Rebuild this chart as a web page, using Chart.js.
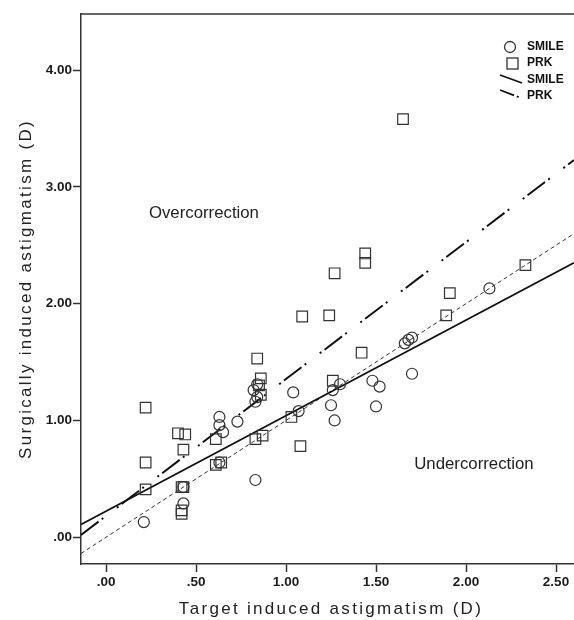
<!DOCTYPE html>
<html>
<head>
<meta charset="utf-8">
<script src="https://cdn.jsdelivr.net/npm/chart.js@4"></script>
<style>
    html, body { margin: 0; padding: 0; background: #fff; overflow: hidden; }
    #wrap { width: 574px; height: 620px; position: relative; }
    canvas { display: block; }
</style>
</head>
<body>
<div id="wrap"><canvas id="scatter"></canvas></div>
<script>
// target vs surgically induced astigmatism
const smileX = [0.21, 0.43, 0.43, 0.63, 0.63, 0.65, 0.63, 0.73, 0.83, 0.84, 0.82, 0.84, 0.83, 1.04, 1.07, 1.25, 1.27, 1.26, 1.30, 1.48, 1.52, 1.50, 1.70, 1.66, 1.68, 1.70, 2.13]
const smileY = [0.13, 0.29, 0.43, 1.03, 0.96, 0.90, 0.64, 0.99, 0.49, 1.31, 1.26, 1.20, 1.16, 1.24, 1.08, 1.13, 1.00, 1.26, 1.31, 1.34, 1.29, 1.12, 1.40, 1.66, 1.69, 1.71, 2.13]
const prkX = [0.22, 0.22, 0.22, 0.40, 0.44, 0.43, 0.42, 0.43, 0.42, 0.42, 0.61, 0.61, 0.64, 0.84, 0.86, 0.85, 0.86, 0.83, 0.87, 1.03, 1.08, 1.26, 1.42, 1.09, 1.24, 1.27, 1.44, 1.44, 1.65, 1.89, 1.91, 2.33]
const prkY = [1.11, 0.64, 0.41, 0.89, 0.88, 0.75, 0.43, 0.43, 0.23, 0.20, 0.84, 0.62, 0.64, 1.53, 1.36, 1.30, 1.22, 0.84, 0.87, 1.03, 0.78, 1.34, 1.58, 1.89, 1.90, 2.26, 2.43, 2.35, 3.58, 1.90, 2.09, 2.33]

// fit lines and the y = x reference, as end points
const lineX = [-0.139, 2.6]
const smileFitY = [0.11, 2.35]
const prkFitY = [0.02, 3.23]
const refY = [-0.139, 2.6]

const xTicks = [0, 0.5, 1, 1.5, 2, 2.5]
const xTickLabels = ['.00', '.50', '1.00', '1.50', '2.00', '2.50']
const yTicks = [0, 1, 2, 3, 4]
const yTickLabels = ['.00', '1.00', '2.00', '3.00', '4.00']

const regionLabels = ['Overcorrection', 'Undercorrection']
const regionX = [0.544, 2.044]
const regionY = [2.77, 0.62]

const xTitle = 'Target induced astigmatism (D)'
const yTitle = 'Surgically induced astigmatism (D)'

const toPts = (xs, ys) => xs.map((v, i) => ({ x: v, y: ys[i] }))

const INK = '#333'
const FONT = '"Liberation Sans", Arial, sans-serif'

const decor = {
    id: 'decor',
    afterDraw(chart) {
        const { ctx, chartArea, scales: { x, y } } = chart
        ctx.save()

        // top of the frame
        ctx.strokeStyle = INK
        ctx.lineWidth = 1.5
        ctx.beginPath()
        ctx.moveTo(chartArea.left, chartArea.top)
        ctx.lineTo(chartArea.right, chartArea.top)
        ctx.stroke()

        ctx.fillStyle = '#222'
        ctx.textAlign = 'center'
        ctx.textBaseline = 'middle'
        ctx.font = '16.8px ' + FONT
        regionLabels.forEach((t, i) => {
            ctx.fillText(t, x.getPixelForValue(regionX[i]), y.getPixelForValue(regionY[i]))
        })

        // axis titles, spaced out like the original
        ctx.letterSpacing = '2.3px'
        ctx.font = '17px ' + FONT
        ctx.textBaseline = 'alphabetic'
        ctx.fillText(xTitle, 331, chart.height - 6)
        ctx.save()
        ctx.translate(31, (chartArea.top + chartArea.bottom) / 2)
        ctx.rotate(-Math.PI / 2)
        ctx.fillText(yTitle, 0, 0)
        ctx.restore()
        ctx.letterSpacing = '0px'

        // legend
        ctx.strokeStyle = INK
        ctx.lineWidth = 1.3
        ctx.beginPath()
        ctx.arc(510, 47, 5.5, 0, Math.PI * 2)
        ctx.stroke()
        ctx.strokeRect(507, 58, 11, 11)

        ctx.lineWidth = 1.8
        ctx.strokeStyle = '#111'
        ctx.beginPath()
        ctx.moveTo(500, 75)
        ctx.lineTo(522, 83)
        ctx.stroke()
        ctx.setLineDash([15, 3, 2, 10])
        ctx.beginPath()
        ctx.moveTo(500, 90)
        ctx.lineTo(521, 98)
        ctx.stroke()
        ctx.setLineDash([])

        ctx.fillStyle = '#111'
        ctx.textAlign = 'left'
        ctx.textBaseline = 'middle'
        ctx.font = 'bold 12px ' + FONT
        ctx.fillText('SMILE', 527, 47)
        ctx.fillText('PRK', 527, 63)
        ctx.fillText('SMILE', 527, 80)
        ctx.fillText('PRK', 527, 96)

        ctx.restore()
    }
}

document.addEventListener('DOMContentLoaded', () => {
    let canvas = document.querySelector('#scatter')
    new Chart(canvas, {
        type: 'scatter',
        data: {
            datasets: [
                {
                    label: 'SMILE',
                    data: toPts(smileX, smileY),
                    pointStyle: 'circle',
                    pointRadius: 5.5,
                    borderColor: INK,
                    borderWidth: 1.2,
                    backgroundColor: 'rgba(0,0,0,0)'
                },
                {
                    label: 'PRK',
                    data: toPts(prkX, prkY),
                    pointStyle: 'rect',
                    pointRadius: 7.5,
                    borderColor: INK,
                    borderWidth: 1.2,
                    backgroundColor: 'rgba(0,0,0,0)'
                },
                {
                    label: 'SMILE fit',
                    data: toPts(lineX, smileFitY),
                    showLine: true,
                    pointRadius: 0,
                    borderColor: '#111',
                    borderWidth: 1.8
                },
                {
                    label: 'PRK fit',
                    data: toPts(lineX, prkFitY),
                    showLine: true,
                    pointRadius: 0,
                    borderColor: '#111',
                    borderWidth: 2,
                    borderDash: [22, 4, 2, 17, 2, 4]
                },
                {
                    label: 'y = x',
                    data: toPts(lineX, refY),
                    showLine: true,
                    pointRadius: 0,
                    borderColor: INK,
                    borderWidth: 1,
                    borderDash: [4, 3]
                }
            ]
        },
        options: {
            responsive: true,
            maintainAspectRatio: false,
            animation: false,
            devicePixelRatio: 1,
            // autoPadding would keep 9px free on the right for the squares
            layout: { autoPadding: false, padding: { top: 14, right: 0, left: 0, bottom: 0 } },
            plugins: {
                legend: { display: false },
                tooltip: { enabled: false }
            },
            scales: {
                x: {
                    type: 'linear',
                    min: -0.139,
                    max: 2.6,
                    border: { display: true, color: INK, width: 1.5 },
                    grid: { drawOnChartArea: false, drawTicks: true, tickLength: 8, tickColor: INK, tickWidth: 1.5 },
                    ticks: {
                        color: '#1a1a1a',
                        padding: 2,
                        font: { family: FONT, size: 13.5, weight: 'bold' },
                        maxRotation: 0,
                        callback: (v, i) => xTickLabels[i]
                    },
                    afterBuildTicks: (scale) => { scale.ticks = xTicks.map(v => ({ value: v })) },
                    afterFit: (scale) => {
                        scale.height = 56
                        scale.paddingLeft = 0
                        scale.paddingRight = 0
                    }
                },
                y: {
                    type: 'linear',
                    min: -0.229,
                    max: 4.48,
                    border: { display: true, color: INK, width: 1.5 },
                    grid: { drawOnChartArea: false, drawTicks: true, tickLength: 8, tickColor: INK, tickWidth: 1.5 },
                    ticks: {
                        color: '#1a1a1a',
                        padding: 1,
                        font: { family: FONT, size: 13.5, weight: 'bold' },
                        callback: (v, i) => yTickLabels[i]
                    },
                    afterBuildTicks: (scale) => { scale.ticks = yTicks.map(v => ({ value: v })) },
                    afterFit: (scale) => {
                        scale.width = 81
                        scale.paddingTop = 0
                        scale.paddingBottom = 0
                    }
                }
            }
        },
        plugins: [decor]
    })
})
</script>
</body>
</html>
